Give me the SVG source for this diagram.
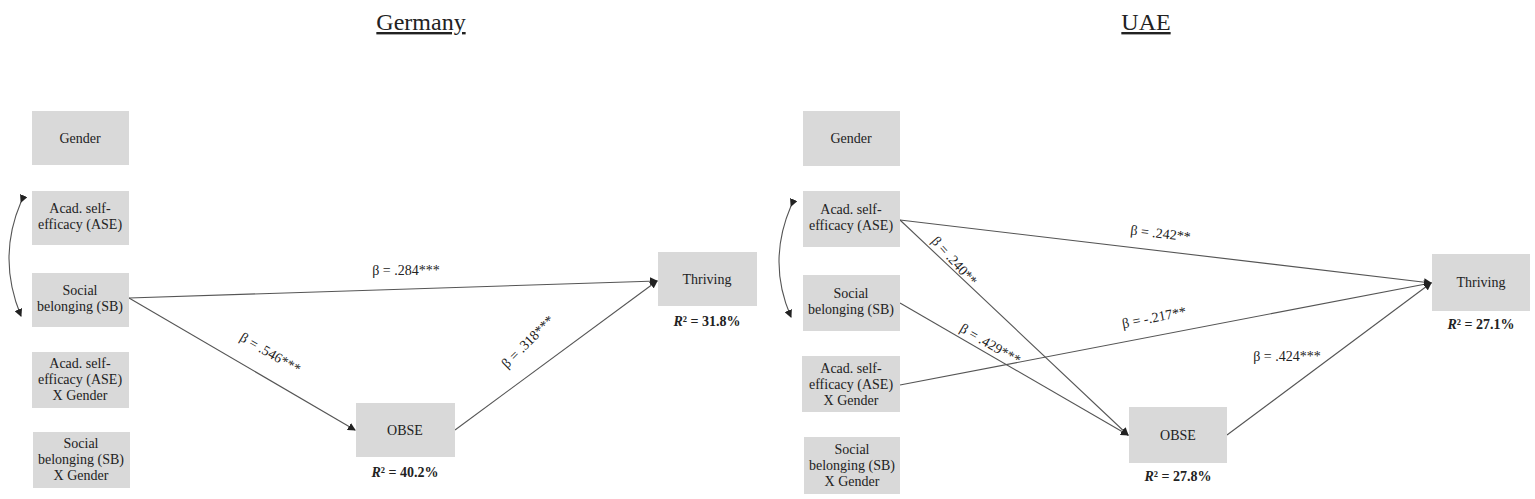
<svg xmlns="http://www.w3.org/2000/svg" width="1535" height="499" viewBox="0 0 1535 499">
<style>
.b{fill:#d9d9d9}
text{font-family:'Liberation Serif','Times New Roman','DejaVu Serif',serif;font-size:14px;fill:#222}
.c{text-anchor:middle}
.r{font-weight:bold}
.t{font-size:24px;text-decoration:underline;text-anchor:middle}
.e{stroke:#555;stroke-width:1.1;fill:none}
</style>
<defs><marker id="a" markerWidth="8" markerHeight="8" refX="7" refY="4" orient="auto" markerUnits="userSpaceOnUse"><path d="M0,0 L8,4 L0,8 z" fill="#222"/></marker></defs>
<rect width="1535" height="499" fill="#fff"/>
<text class="t" x="421" y="30">Germany</text>
<text class="t" x="1146" y="30">UAE</text>
<g id="connectors">
<path class="e" d="M21,202 Q-3,258 21,316" marker-start="url(#a)" marker-end="url(#a)"/>
<path class="e" d="M129,298 L657,281" marker-end="url(#a)"/>
<path class="e" d="M129,298 L355,430" marker-end="url(#a)"/>
<path class="e" d="M455,430 L657,281" marker-end="url(#a)"/>
<path class="e" d="M791,206 Q767,262 791,317" marker-start="url(#a)" marker-end="url(#a)"/>
<path class="e" d="M900,220 L1431,283" marker-end="url(#a)"/>
<path class="e" d="M900,220 L1128,435" marker-end="url(#a)"/>
<path class="e" d="M900,303 L1128,435" marker-end="url(#a)"/>
<path class="e" d="M900,385 L1431,283" marker-end="url(#a)"/>
<path class="e" d="M1227,435 L1431,283" marker-end="url(#a)"/>
<text class="c" x="406" y="275">β = .284***</text>
<text class="c" transform="translate(268,357) rotate(30)">β = .546***</text>
<text class="c" transform="translate(531,345) rotate(-45)">β = .318***</text>
<text class="c" transform="translate(1160,238) rotate(6.5)">β = .242**</text>
<text class="c" transform="translate(951,264) rotate(48)">β = .240**</text>
<text class="c" transform="translate(988,348) rotate(30)">β = .429***</text>
<text class="c" transform="translate(1155,322) rotate(-11)">β = -.217**</text>
<text class="c" x="1287" y="361">β = .424***</text>
</g>
<g id="g1"><rect class="b" x="32" y="111" width="97" height="54"/><text class="c" x="80" y="143">Gender</text></g>
<g id="g2"><rect class="b" x="32" y="191" width="97" height="54"/><text class="c" x="80" y="213">Acad. self-</text><text class="c" x="80" y="229">efficacy (ASE)</text></g>
<g id="g3"><rect class="b" x="32" y="273" width="97" height="54"/><text class="c" x="80" y="295">Social</text><text class="c" x="80" y="311">belonging (SB)</text></g>
<g id="g4"><rect class="b" x="32" y="352" width="97" height="56"/><text class="c" x="80" y="368">Acad. self-</text><text class="c" x="80" y="384">efficacy (ASE)</text><text class="c" x="80" y="400">X Gender</text></g>
<g id="g5"><rect class="b" x="33" y="432" width="97" height="56"/><text class="c" x="81" y="448">Social</text><text class="c" x="81" y="464">belonging (SB)</text><text class="c" x="81" y="480">X Gender</text></g>
<g id="g6"><rect class="b" x="658" y="252" width="99" height="54"/><text class="c" x="707" y="284">Thriving</text><text class="c r" x="707" y="326"><tspan font-style="italic">R</tspan>² = 31.8%</text></g>
<g id="g7"><rect class="b" x="356" y="403" width="99" height="54"/><text class="c" x="405" y="435">OBSE</text><text class="c r" x="405" y="477"><tspan font-style="italic">R</tspan>² = 40.2%</text></g>
<g id="u1"><rect class="b" x="803" y="111" width="97" height="55"/><text class="c" x="851" y="143">Gender</text></g>
<g id="u2"><rect class="b" x="803" y="191" width="97" height="56"/><text class="c" x="851" y="214">Acad. self-</text><text class="c" x="851" y="230">efficacy (ASE)</text></g>
<g id="u3"><rect class="b" x="803" y="275" width="97" height="56"/><text class="c" x="851" y="298">Social</text><text class="c" x="851" y="314">belonging (SB)</text></g>
<g id="u4"><rect class="b" x="802" y="356" width="98" height="56"/><text class="c" x="851" y="373">Acad. self-</text><text class="c" x="851" y="389">efficacy (ASE)</text><text class="c" x="851" y="405">X Gender</text></g>
<g id="u5"><rect class="b" x="804" y="437" width="96" height="57"/><text class="c" x="852" y="454">Social</text><text class="c" x="852" y="470">belonging (SB)</text><text class="c" x="852" y="486">X Gender</text></g>
<g id="u6"><rect class="b" x="1432" y="254" width="98" height="57"/><text class="c" x="1481" y="287">Thriving</text><text class="c r" x="1481" y="329"><tspan font-style="italic">R</tspan>² = 27.1%</text></g>
<g id="u7"><rect class="b" x="1129" y="407" width="98" height="56"/><text class="c" x="1178" y="440">OBSE</text><text class="c r" x="1178" y="481"><tspan font-style="italic">R</tspan>² = 27.8%</text></g>
</svg>
